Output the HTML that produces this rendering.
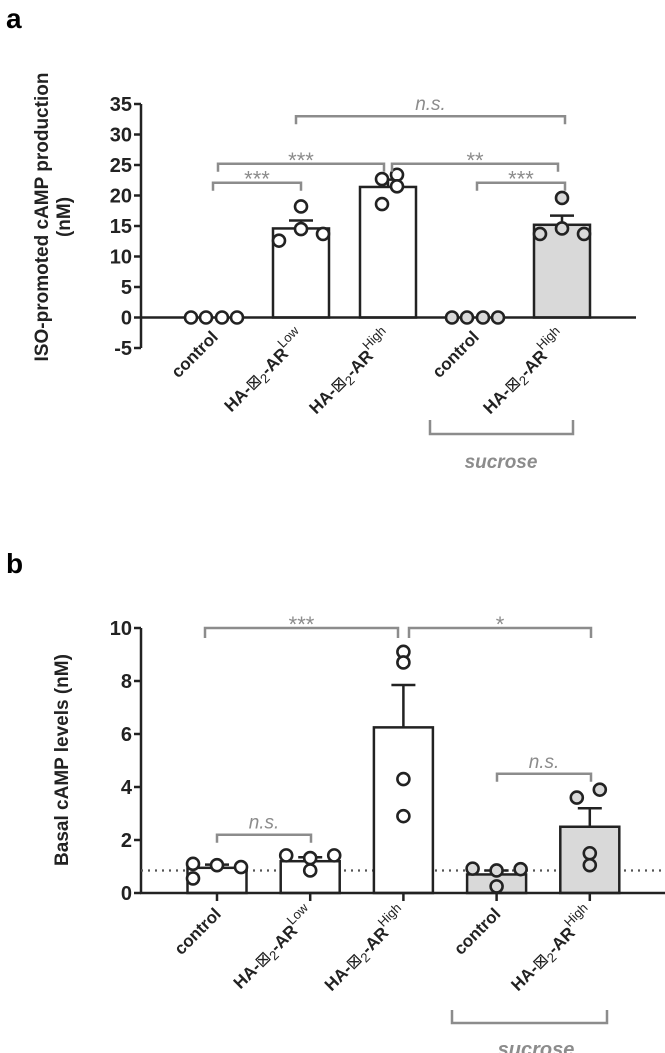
<!DOCTYPE html>
<html><head><meta charset="utf-8"><style>
html,body{margin:0;padding:0;background:#fff;}
svg{display:block;font-family:"Liberation Sans",sans-serif;}
</style></head><body>
<svg id="fig" width="665" height="1053" viewBox="0 0 665 1053">
<text x="6" y="28" font-size="28" font-weight="bold">a</text>
<text x="6" y="573" font-size="28" font-weight="bold">b</text>
<g id="ga"></g>
<g id="gb"></g>
</svg>
<script>
// ---- Chart A data ----
const catsA = ["control","HA-β2-AR Low","HA-β2-AR High","control (sucrose)","HA-β2-AR High (sucrose)"];
const meansA = [0, 14.6, 21.4, 0, 15.2];
const semA = [0, 1.3, 1.2, 0, 1.5];
const ptsA = [[0,0,0,0],[12.6,18.2,14.5,13.7],[22.7,18.6,23.4,21.5],[0,0,0,0],[13.7,19.6,14.6,13.7]];
const ticksA = [-5,0,5,10,15,20,25,30,35];
// ---- Chart B data ----
const catsB = ["control","HA-β2-AR Low","HA-β2-AR High","control (sucrose)","HA-β2-AR High (sucrose)"];
const meansB = [0.95, 1.2, 6.25, 0.7, 2.5];
const semB = [0.12, 0.15, 1.6, 0.15, 0.7];
const ptsB = [[1.1,0.55,1.05,0.98],[1.42,0.85,1.32,1.42],[9.1,8.7,4.3,2.9],[0.92,0.25,0.85,0.9],[3.6,3.9,1.5,1.05]];
const ticksB = [0,2,4,6,8,10];
const baselineB = 0.85;

// jitter offsets (pixel layout only)
const offA=[[-23,-8,8,23],[-22,0,0,22],[-6,-6,9,9],[-23,-8,8,23],[-22,0,0,22]];
const offB=[[-24,-24,0,24],[-24,0,0,24],[0,0,0,0],[-24,0,0,24],[-13,10,0,0]];

const NS="http://www.w3.org/2000/svg";
function mk(parent,tag,attrs){const e=document.createElementNS(NS,tag);for(const k in attrs)e.setAttribute(k,attrs[k]);parent.appendChild(e);return e;}
const fills=["#fff","#fff","#fff","#d9d9d9","#d9d9d9"];
const gray="#8c8c8c";

function labelsAt(g,cx,yTop,i){
  const t=mk(g,"text",{transform:`translate(${cx+5},${yTop}) rotate(-45)`,"text-anchor":"end","font-size":"17","font-weight":"bold",fill:"#222"});
  
  
  if(i%3===0){t.textContent="control";}
  else{
    const sup=(i===1)?"Low":"High";
    t.innerHTML=`HA-<tspan font-weight="normal">⊠</tspan><tspan font-size="13" font-weight="normal" dy="4">2</tspan><tspan dy="-4">-AR</tspan><tspan font-size="13" font-weight="normal" dy="-9">${sup}</tspan>`;
  }
}
function bracket(g,x1,x2,y,drop,label,italic,name){
  const p=mk(g,"path",{d:`M${x1},${y+drop}V${y}H${x2}V${y+drop}`,fill:"none",stroke:gray,"stroke-width":"2.5"});
  
  
  const t=mk(g,"text",{x:(x1+x2)/2,y:italic?y-6:y+4,"text-anchor":"middle","font-size":italic?"19":"22",fill:gray,"font-style":italic?"italic":"normal"});
  t.textContent=label;
  
  
}

function chart(g,o){
  const y=v=>o.y0-(v-o.vmin)*(o.y0-o.y1)/(o.vmax-o.vmin);
  const ax=mk(g,"line",{x1:o.ax,y1:y(o.vmin),x2:o.ax,y2:y(o.vmax),stroke:"#222","stroke-width":"2.5"});
  
  
  o.ticks.forEach(v=>{
    mk(g,"line",{x1:o.ax-7,y1:y(v),x2:o.ax,y2:y(v),stroke:"#222","stroke-width":"2.5"});
    const t=mk(g,"text",{x:o.ax-9,y:y(v)+7,"text-anchor":"end","font-size":"20","font-weight":"bold",fill:"#222","font-family":"'Liberation Sans Narrow','Liberation Sans',sans-serif"});
    t.textContent=v;
    
    
  });
  const cx=i=>o.c0+i*o.dx;
  if(o.dotted!==undefined){
    const d=mk(g,"line",{x1:o.ax,y1:y(o.dotted),x2:665,y2:y(o.dotted),stroke:"#555","stroke-width":"2.2","stroke-dasharray":"2,5"});
    
    
  }
  o.means.forEach((m,i)=>{
    const x=cx(i);
    if(m>0){
      const r=mk(g,"rect",{x:x-o.bw/2,y:y(m),width:o.bw,height:y(0)-y(m),fill:fills[i],stroke:"#222","stroke-width":"2.5"});
      
      
      const e=mk(g,"path",{d:`M${x},${y(m)}V${y(m+o.sem[i])}M${x-12},${y(m+o.sem[i])}H${x+12}`,stroke:"#222","stroke-width":"2.5",fill:"none"});
      
      
    }
  });
  const xa=mk(g,"line",{x1:o.ax-1,y1:y(0),x2:o.xend,y2:y(0),stroke:"#222","stroke-width":"2.5"});
  
  
  o.means.forEach((m,i)=>{
    const x=cx(i);
    if(o.xticks) mk(g,"line",{x1:x,y1:y(0),x2:x,y2:y(0)+8,stroke:"#222","stroke-width":"2.5"});
    o.pts[i].forEach((v,j)=>{
      const c=mk(g,"circle",{cx:x+o.off[i][j],cy:y(v),r:6,fill:fills[i],stroke:"#222","stroke-width":"2.6"});
      
      
    });
    labelsAt(g,x,o.labY,i);
  });
  return {y,cx};
}

// Chart A
const ga=document.getElementById("ga");
const A=chart(ga,{ax:141,y0:348,y1:104,vmin:-5,vmax:35,ticks:ticksA,c0:214,dx:87,bw:56,xend:636,
  means:meansA,sem:semA,pts:ptsA,off:offA,labY:338,xticks:false});
bracket(ga,A.cx(0)-1,A.cx(1),A.y(22.1),8,"***",false,"bracket-a-control-low");
bracket(ga,A.cx(0)+4,A.cx(2)-4,A.y(25.2),8,"***",false,"bracket-a-control-high");
bracket(ga,A.cx(2)+4,A.cx(4)-4,A.y(25.2),8,"**",false,"bracket-a-high-sucrosehigh");
bracket(ga,A.cx(3)+2,A.cx(4)+3,A.y(22.1),8,"***",false,"bracket-a-sucrose");
bracket(ga,A.cx(1)-5,A.cx(4)+3,A.y(33),8,"n.s.",true,"bracket-a-ns");
const sa=mk(ga,"path",{d:"M430,420V434H573V420",fill:"none",stroke:gray,"stroke-width":"2.5"});


const sta=mk(ga,"text",{x:501,y:468,"text-anchor":"middle","font-size":"19","font-weight":"bold","font-style":"italic",fill:gray});
sta.textContent="sucrose";


const yta=mk(ga,"text",{transform:"translate(48,217) rotate(-90)","text-anchor":"middle","font-size":"19","font-weight":"bold",fill:"#222"});
yta.innerHTML='<tspan x="0" dy="0">ISO-promoted cAMP production</tspan><tspan x="0" dy="22">(nM)</tspan>';



// Chart B
const gb=document.getElementById("gb");
const B=chart(gb,{ax:141,y0:893,y1:628,vmin:0,vmax:10,ticks:ticksB,c0:217,dx:93.2,bw:59,xend:665,
  means:meansB,sem:semB,pts:ptsB,off:offB,labY:915,xticks:true,dotted:baselineB});
bracket(gb,205,398,B.y(10),10,"***",false,"bracket-b-control-high");
bracket(gb,409,591,B.y(10),10,"*",false,"bracket-b-high-sucrosehigh");
bracket(gb,217,311,B.y(2.2),8,"n.s.",true,"bracket-b-ns-low");
bracket(gb,497,591,B.y(4.5),8,"n.s.",true,"bracket-b-ns-sucrose");
const sb=mk(gb,"path",{d:"M452,1010V1023H607V1010",fill:"none",stroke:gray,"stroke-width":"2.5"});


const stb=mk(gb,"text",{x:536,y:1056,"text-anchor":"middle","font-size":"20","font-weight":"bold","font-style":"italic",fill:gray});
stb.textContent="sucrose";


const ytb=mk(gb,"text",{transform:"translate(68,760) rotate(-90)","text-anchor":"middle","font-size":"19","font-weight":"bold",fill:"#222"});
ytb.textContent="Basal cAMP levels (nM)";


</script>
</body></html>
